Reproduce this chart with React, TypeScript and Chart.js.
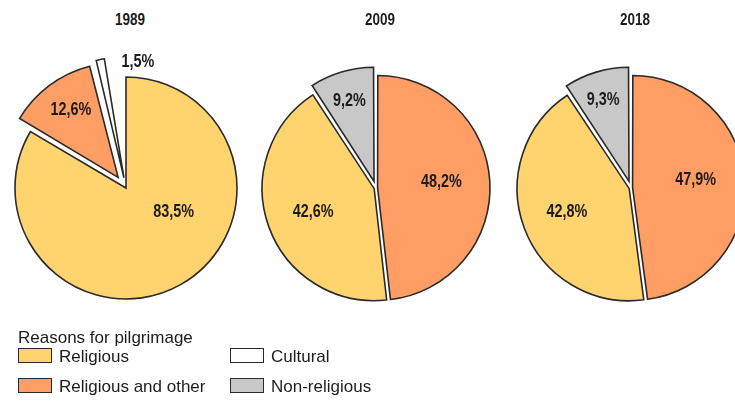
import React, { useEffect, useRef } from "react";
import { Chart, registerables } from "chart.js";

Chart.register(...registerables);

// ---- data ----
const YEARS = ["1989", "2009", "2018"];
const LABELS_1989 = ["Religious", "Religious and other", "Cultural"];
const VALUES_1989 = [83.5, 12.6, 1.5];
const LABELS_2009 = ["Religious and other", "Religious", "Non-religious"];
const VALUES_2009 = [48.2, 42.6, 9.2];
const LABELS_2018 = ["Religious and other", "Religious", "Non-religious"];
const VALUES_2018 = [47.9, 42.8, 9.3];
const LEGEND_TITLE = "Reasons for pilgrimage";
const LEGEND_ITEMS = ["Religious", "Cultural", "Religious and other", "Non-religious"];

// ---- style ----
const COLORS: Record<string, string> = {
  Religious: "#FFD46E",
  "Religious and other": "#FF9E64",
  Cultural: "#FFFFFF",
  "Non-religious": "#C8C8C8",
};
const BORDER = "#2a2a2a";
const BOLD = "'Liberation Sans', Arial, sans-serif";
const REGULAR = "'Liberation Sans', Arial, sans-serif";
const NARROW_SCALE = 0.8;
const RADIUS = 111;
const CANVAS = 300;

type PieSpec = {
  title: string;
  labels: string[];
  values: number[];
  center: [number, number];
  push: number[]; // how far each slice is pulled out (px)
  labelPos: [number, number][]; // [fraction of radius, angle shift in deg]
};

const PIES: PieSpec[] = [
  {
    title: YEARS[0],
    labels: LABELS_1989,
    values: VALUES_1989,
    center: [126, 188],
    push: [0, 17, 20],
    labelPos: [[0.48, -33.5], [0.71, 1.9], [0.97, 19.8]],
  },
  {
    title: YEARS[1],
    labels: LABELS_2009,
    values: VALUES_2009,
    center: [376, 188],
    push: [3, 3, 10],
    labelPos: [[0.565, -1.9], [0.58, -1.3], [0.73, -0.4]],
  },
  {
    title: YEARS[2],
    labels: LABELS_2018,
    values: VALUES_2018,
    center: [631, 188],
    push: [3, 3, 10],
    labelPos: [[0.56, -3.4], [0.59, 0.1], [0.74, -0.9]],
  },
];

const fmt = (v: number) => v.toFixed(1).replace(".", ",") + "%";

const sliceLabels = {
  id: "sliceLabels",
  afterDatasetsDraw(chart: any, _args: any, opts: any) {
    const ctx = chart.ctx as CanvasRenderingContext2D;
    const meta = chart.getDatasetMeta(0);
    const values = chart.data.datasets[0].data as number[];
    meta.data.forEach((arc: any, i: number) => {
      const p = arc.getProps(["x", "y", "startAngle", "endAngle", "outerRadius"], true);
      const circ = p.endAngle - p.startAngle;
      const mid = (p.startAngle + p.endAngle) / 2;
      const off = arc.options.offset || 0;
      const t = (off * (2 - Math.sin(Math.min(Math.PI, circ)))) / 4;
      const [f, d] = opts.pos[i];
      const a = mid + (d * Math.PI) / 180;
      const x = p.x + Math.cos(mid) * t + Math.cos(a) * f * p.outerRadius;
      const y = p.y + Math.sin(mid) * t + Math.sin(a) * f * p.outerRadius;
      ctx.save();
      ctx.translate(x, y);
      ctx.scale(NARROW_SCALE, 1);
      ctx.font = `bold 18px ${BOLD}`;
      ctx.fillStyle = "#1c1c1c";
      ctx.textAlign = "center";
      ctx.textBaseline = "middle";
      ctx.fillText(fmt(values[i]), 0, 0);
      ctx.restore();
    });
  },
};

function Pie({ spec }: { spec: PieSpec }) {
  const ref = useRef<HTMLCanvasElement>(null);
  useEffect(() => {
    if (!ref.current) return;
    const total = spec.values.reduce((s, v) => s + v, 0);
    const offsets = spec.values.map((v, i) => {
      const circ = (v / 100) * 2 * Math.PI;
      return (4 * spec.push[i]) / (2 - Math.sin(Math.min(Math.PI, circ)));
    });
    const chart = new Chart(ref.current, {
      type: "pie",
      data: {
        labels: spec.labels,
        datasets: [
          {
            data: spec.values,
            backgroundColor: spec.labels.map((l) => COLORS[l]),
            borderColor: BORDER,
            borderWidth: 1.6,
            borderJoinStyle: "miter",
            offset: offsets,
          } as any,
        ],
      },
      options: {
        responsive: false,
        animation: false,
        events: [],
        radius: RADIUS,
        circumference: (total / 100) * 360,
        rotation: 0,
        layout: { padding: 0 },
        plugins: {
          legend: { display: false },
          tooltip: { enabled: false },
          sliceLabels: { pos: spec.labelPos },
        } as any,
      } as any,
      plugins: [sliceLabels],
    });
    return () => chart.destroy();
  }, [spec]);
  const [cx, cy] = spec.center;
  return (
    <>
      <canvas
        ref={ref}
        width={CANVAS}
        height={CANVAS}
        style={{ position: "absolute", left: cx - CANVAS / 2, top: cy - CANVAS / 2, width: CANVAS, height: CANVAS }}
      />
      <div
        style={{
          position: "absolute",
          left: cx - 46,
          width: 100,
          top: 11,
          textAlign: "center",
          font: `bold 16px ${BOLD}`,
          lineHeight: "18px",
          color: "#1c1c1c",
          transform: "scaleX(0.84)",
        }}
      >
        {spec.title}
      </div>
    </>
  );
}

function LegendItem({ label, x, y }: { label: string; x: number; y: number }) {
  return (
    <>
      <div
        style={{
          position: "absolute",
          left: x,
          top: y,
          width: 32,
          height: 13,
          background: COLORS[label],
          border: `1.6px solid ${BORDER}`,
        }}
      />
      <div
        style={{
          position: "absolute",
          left: x + 41,
          top: y - 1,
          font: `17px ${REGULAR}`,
          lineHeight: "19px",
          color: "#1c1c1c",
          whiteSpace: "nowrap",
        }}
      >
        {label}
      </div>
    </>
  );
}

export default function App() {
  return (
    <div
      style={{
        position: "fixed",
        left: 0,
        top: 0,
        width: 735,
        height: 401,
        overflow: "hidden",
        background: "#ffffff",
      }}
    >
      {PIES.map((p) => (
        <Pie key={p.title} spec={p} />
      ))}
      <div
        style={{
          position: "absolute",
          left: 18,
          top: 328,
          font: `17px ${REGULAR}`,
          lineHeight: "19px",
          color: "#1c1c1c",
          whiteSpace: "nowrap",
        }}
      >
        {LEGEND_TITLE}
      </div>
      <LegendItem label={LEGEND_ITEMS[0]} x={18} y={348} />
      <LegendItem label={LEGEND_ITEMS[1]} x={230} y={348} />
      <LegendItem label={LEGEND_ITEMS[2]} x={18} y={378} />
      <LegendItem label={LEGEND_ITEMS[3]} x={230} y={378} />
    </div>
  );
}
